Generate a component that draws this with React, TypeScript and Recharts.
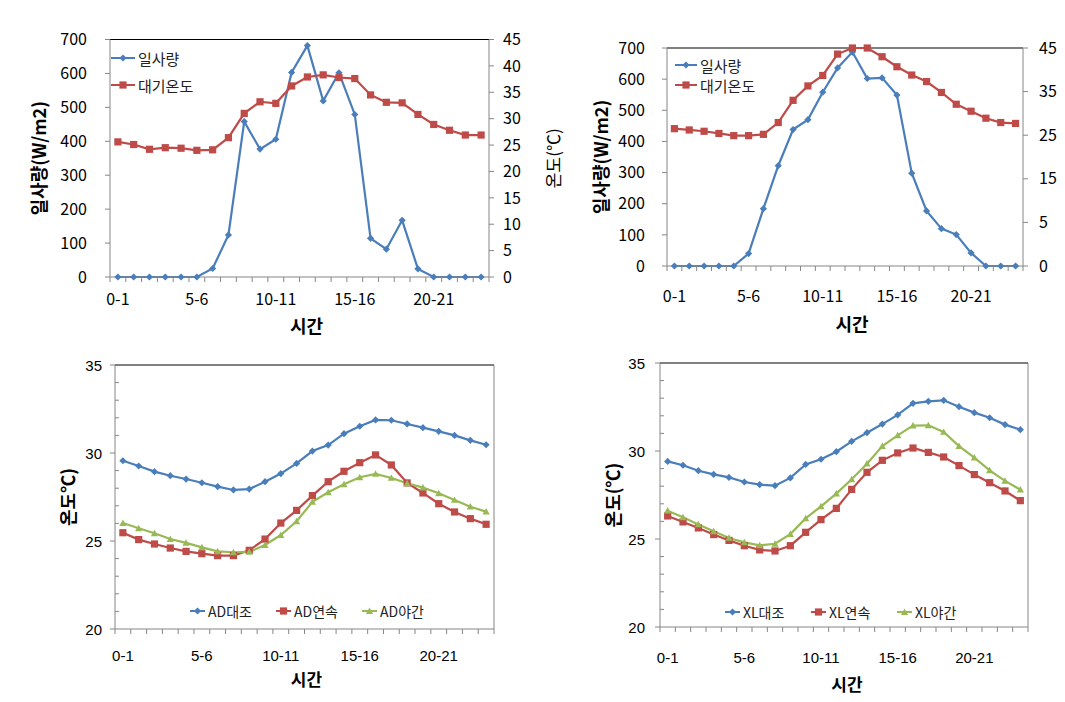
import React from 'react';
import { LineChart, Line, XAxis, YAxis, Legend, ReferenceLine } from 'recharts';

// hour categories, tick labels shown every 5 hours
const hours = [
  '0-1', '1-2', '2-3', '3-4', '4-5', '5-6', '6-7', '7-8', '8-9', '9-10', '10-11', '11-12',
  '12-13', '13-14', '14-15', '15-16', '16-17', '17-18', '18-19', '19-20', '20-21', '21-22', '22-23', '23-24',
];
const labelTicks = [0.5, 5.5, 10.5, 15.5, 20.5];
const boundaryTicks = [0, 1, 2, 3, 4, 5, 6, 7, 8, 9, 10, 11, 12, 13, 14, 15, 16, 17, 18, 19, 20, 21, 22, 23, 24];
const xTicks = [...boundaryTicks, ...labelTicks].sort((a, b) => a - b);

// top-left panel
const radiationA = [0, 0, 0, 0, 0, 0, 25, 124, 458, 377, 406, 603, 682, 519, 602, 479, 114, 82, 167, 24, 0, 0, 0, 0];
const airTempA = [25.6, 25.1, 24.2, 24.5, 24.4, 24.0, 24.1, 26.4, 31.0, 33.2, 32.9, 36.2, 37.9, 38.3, 37.8, 37.6, 34.5, 33.1, 33.0, 30.8, 28.9, 27.8, 26.9, 26.9];

// top-right panel
const radiationB = [0, 0, 0, 0, 0, 40, 184, 322, 438, 470, 558, 636, 687, 602, 604, 549, 298, 177, 120, 101, 42, 0, 0, 0];
const airTempB = [26.5, 26.2, 25.9, 25.4, 24.9, 24.9, 25.2, 27.9, 33.0, 36.3, 38.7, 43.6, 45.0, 45.0, 43.0, 40.7, 38.8, 37.3, 34.8, 32.1, 30.5, 28.9, 27.9, 27.7];

// bottom-left panel (AD)
const adControl = [29.56, 29.26, 28.94, 28.71, 28.52, 28.31, 28.09, 27.9, 27.95, 28.37, 28.83, 29.41, 30.11, 30.45, 31.1, 31.52, 31.88, 31.86, 31.65, 31.44, 31.23, 31.0, 30.72, 30.47];
const adContinuous = [25.47, 25.08, 24.83, 24.6, 24.41, 24.28, 24.17, 24.17, 24.47, 25.11, 26.02, 26.74, 27.58, 28.37, 28.96, 29.45, 29.89, 29.32, 28.3, 27.73, 27.12, 26.65, 26.27, 25.95];
const adNight = [26.02, 25.72, 25.44, 25.11, 24.89, 24.64, 24.41, 24.36, 24.38, 24.77, 25.34, 26.12, 27.22, 27.77, 28.22, 28.62, 28.81, 28.58, 28.28, 28.03, 27.71, 27.33, 26.95, 26.67];

// bottom-right panel (XL)
const xlControl = [29.41, 29.19, 28.88, 28.67, 28.5, 28.24, 28.09, 28.03, 28.47, 29.24, 29.53, 29.96, 30.55, 31.04, 31.53, 32.05, 32.71, 32.82, 32.88, 32.52, 32.18, 31.89, 31.5, 31.21];
const xlContinuous = [26.31, 25.97, 25.63, 25.25, 24.92, 24.62, 24.38, 24.32, 24.62, 25.38, 26.1, 26.74, 27.82, 28.79, 29.47, 29.89, 30.17, 29.92, 29.66, 29.17, 28.66, 28.2, 27.73, 27.18];
const xlNight = [26.61, 26.23, 25.83, 25.44, 25.06, 24.81, 24.64, 24.73, 25.28, 26.17, 26.86, 27.58, 28.39, 29.28, 30.28, 30.89, 31.44, 31.46, 31.08, 30.28, 29.62, 28.9, 28.3, 27.8];

const radTicks = [0, 100, 200, 300, 400, 500, 600, 700];
const tempTicksA = [0, 5, 10, 15, 20, 25, 30, 35, 40, 45];
const tempTicksB = [-5, 5, 15, 25, 35, 45];
const leafTicks = [20, 21, 22, 23, 24, 25, 26, 27, 28, 29, 30, 31, 32, 33, 34, 35];

const BLUE = '#4A7EBB';
const RED = '#BE4B48';
const GREEN = '#98B954';
const AXIS = '#868686';
const FONT = '"Noto Sans CJK KR", "Noto Sans", sans-serif';
const NARROW = '"Liberation Sans Narrow", "Liberation Sans", "Noto Sans CJK KR", sans-serif';

function Marker({ shape, cx, cy, color, r = 3.6 }: any) {
  if (cx == null || cy == null) return null;
  if (shape === 'diamond') {
    return <path d={`M${cx},${cy - r}L${cx + r},${cy}L${cx},${cy + r}L${cx - r},${cy}Z`} fill={color} />;
  }
  if (shape === 'square') {
    return <rect x={cx - r} y={cy - r} width={r * 2} height={r * 2} fill={color} />;
  }
  return <path d={`M${cx},${cy - r}L${cx + r},${cy + r * 0.8}L${cx - r},${cy + r * 0.8}Z`} fill={color} />;
}

const dotOf = (shape: string, color: string) => (p: any) => (
  <Marker key={`${shape}-${p.index}`} shape={shape} cx={p.cx} cy={p.cy} color={color} />
);

const shapes: Record<string, string> = {
  rad: 'diamond', temp: 'square', a: 'diamond', b: 'square', c: 'triangle',
};
const legendOrder = ['rad', 'temp', 'a', 'b', 'c'];

function LegendContent({ payload, vertical, rowH, iconW, itemW, fontSize }: any) {
  const items = [...(payload || [])].sort(
    (p: any, q: any) => legendOrder.indexOf(p.dataKey) - legendOrder.indexOf(q.dataKey),
  );
  return (
    <div style={{ display: 'flex', flexDirection: vertical ? 'column' : 'row', fontFamily: FONT, fontSize, color: '#222' }}>
      {items.map((e: any) => (
        <div key={e.value} style={{ display: 'flex', alignItems: 'center', height: rowH, width: itemW }}>
          <svg width={iconW} height={12} style={{ flex: 'none' }}>
            <line x1={0} y1={6} x2={iconW} y2={6} stroke={e.color} strokeWidth={2} />
            <Marker shape={shapes[e.dataKey]} cx={iconW / 2} cy={6} color={e.color} />
          </svg>
          <span style={{ marginLeft: 3, whiteSpace: 'nowrap' }}>{e.value}</span>
        </div>
      ))}
    </div>
  );
}

const vTitle = (text: string, dx: number, size: number, bold: boolean) => (props: any) => {
  const vb = props.viewBox || { x: 0, y: 0, width: 0, height: 0 };
  const x = vb.x + dx;
  const y = vb.y + vb.height / 2;
  return (
    <text x={x} y={y} transform={`rotate(-90 ${x} ${y})`} textAnchor="middle" dominantBaseline="central"
      fontFamily={FONT} fontSize={size} fontWeight={bold ? 700 : 400} fill="#000">{text}</text>
  );
};

const hTitle = (text: string, dx: number, dy: number, size: number) => (props: any) => {
  const vb = props.viewBox || { x: 0, y: 0, width: 0, height: 0 };
  return (
    <text x={vb.x + vb.width / 2 + dx} y={vb.y + dy} textAnchor="middle" dominantBaseline="central"
      fontFamily={FONT} fontSize={size} fontWeight={700} fill="#000">{text}</text>
  );
};

// whole-number ticks are hour boundaries (tick marks); half ticks carry the hour label
const hourTick = (offset: number, font: string, size: number) => (p: any) => {
  const v = p.payload.value;
  if (Number.isInteger(v)) {
    return <line x1={p.x} y1={p.y} x2={p.x} y2={p.y + 5} stroke={AXIS} />;
  }
  return (
    <text x={p.x} y={p.y + offset} textAnchor="middle" dominantBaseline="central"
      fontFamily={font} fontSize={size} fill="#000">{hours[Math.floor(v)]}</text>
  );
};

// major ticks every 5 degrees outside with a label, minor ticks inside
const leafTick = (gap: number) => (p: any) => {
  const v = p.payload.value;
  if (v % 5 === 0) {
    return (
      <g>
        <line x1={p.x - 5} y1={p.y} x2={p.x} y2={p.y} stroke={AXIS} />
        <text x={p.x - 5 - gap} y={p.y} textAnchor="end" dominantBaseline="central"
          fontFamily={NARROW} fontSize={15} fill="#000">{v}</text>
      </g>
    );
  }
  return <line x1={p.x} y1={p.y} x2={p.x + 4} y2={p.y} stroke={AXIS} />;
};

function RadiationPanel({ cfg, radiation, airTemp, tempDomain, tempTicks }: any) {
  const rows = hours.map((h, i) => ({ pos: i + 0.5, hour: h, rad: radiation[i], temp: airTemp[i] }));
  const tick = { fontFamily: FONT, fontSize: 16, fill: '#000' };
  return (
    <div style={{ position: 'absolute', left: cfg.left, top: cfg.top }}>
      <LineChart width={cfg.width} height={cfg.height} data={rows}
        margin={{ top: cfg.mTop, right: cfg.mRight, bottom: 0, left: 0 }}>
        <XAxis dataKey="pos" type="number" domain={[0, 24]} ticks={xTicks} interval={0}
          tick={hourTick(cfg.xLabelOffset, FONT, 16)} tickLine={false} tickSize={0} tickMargin={0}
          height={cfg.xH} stroke={AXIS}
          label={{ content: hTitle('시간', cfg.xTitleDx, cfg.xTitleDy, 18) }} />
        <YAxis yAxisId="rad" type="number" domain={[0, 700]} ticks={radTicks} interval={0} width={cfg.leftW}
          tickSize={5} tickMargin={cfg.lTickMargin} stroke={AXIS} tick={tick}
          label={{ content: vTitle('일사량(W/m2)', cfg.lTitleX, 18, true) }} />
        <YAxis yAxisId="temp" orientation="right" type="number" domain={tempDomain} ticks={tempTicks} interval={0}
          width={cfg.rightW} tickSize={5} tickMargin={cfg.rTickMargin} stroke={AXIS} tick={tick}
          tickFormatter={(v: number) => (v < 0 ? '0' : String(v))}
          label={cfg.rTitle ? { content: vTitle(cfg.rTitle, cfg.rTitleX, 17, false) } : undefined} />
        <ReferenceLine yAxisId="rad" y={700} stroke="#000" strokeWidth={1} />
        <Line yAxisId="rad" dataKey="rad" name="일사량" type="linear" stroke={BLUE} strokeWidth={2.2}
          dot={dotOf('diamond', BLUE)} activeDot={false} isAnimationActive={false} />
        <Line yAxisId="temp" dataKey="temp" name="대기온도" type="linear" stroke={RED} strokeWidth={2.2}
          dot={dotOf('square', RED)} activeDot={false} isAnimationActive={false} />
        <Legend layout="horizontal" verticalAlign="middle" align="center"
          wrapperStyle={{ left: cfg.legLeft, top: cfg.legTop, width: 'auto' }}
          content={<LegendContent vertical rowH={cfg.legRowH} iconW={cfg.legIconW} fontSize={15} />} />
      </LineChart>
    </div>
  );
}

function LeafPanel({ cfg, control, continuous, night, prefix }: any) {
  const rows = hours.map((h, i) => ({ pos: i + 0.5, hour: h, a: control[i], b: continuous[i], c: night[i] }));
  return (
    <div style={{ position: 'absolute', left: cfg.left, top: cfg.top }}>
      <LineChart width={cfg.width} height={cfg.height} data={rows}
        margin={{ top: cfg.mTop, right: cfg.mRight, bottom: 0, left: 0 }}>
        <XAxis dataKey="pos" type="number" domain={[0, 24]} ticks={xTicks} interval={0}
          tick={hourTick(cfg.xLabelOffset, NARROW, 15)} tickLine={false} tickSize={0} tickMargin={0}
          height={cfg.xH} stroke={AXIS}
          label={{ content: hTitle('시간', cfg.xTitleDx, cfg.xTitleDy, 17) }} />
        <YAxis type="number" domain={[20, 35]} ticks={leafTicks} interval={0} width={cfg.leftW}
          tick={leafTick(cfg.lTickMargin)} tickLine={false} tickSize={0} tickMargin={0} stroke={AXIS}
          label={{ content: vTitle(cfg.yTitle, cfg.lTitleX, 18, true) }} />
        <ReferenceLine y={35} stroke="#000" strokeWidth={1} />
        <ReferenceLine x={24} stroke={AXIS} strokeWidth={1} />
        <Line dataKey="a" name={`${prefix}대조`} type="linear" stroke={BLUE} strokeWidth={2.2}
          dot={dotOf('diamond', BLUE)} activeDot={false} isAnimationActive={false} />
        <Line dataKey="b" name={`${prefix}연속`} type="linear" stroke={RED} strokeWidth={2.2}
          dot={dotOf('square', RED)} activeDot={false} isAnimationActive={false} />
        <Line dataKey="c" name={`${prefix}야간`} type="linear" stroke={GREEN} strokeWidth={2.2}
          dot={dotOf('triangle', GREEN)} activeDot={false} isAnimationActive={false} />
        <Legend layout="horizontal" verticalAlign="middle" align="center"
          wrapperStyle={{ left: cfg.legLeft, top: cfg.legTop, width: 'auto' }}
          content={<LegendContent rowH={20} iconW={15} itemW={86} fontSize={14} />} />
      </LineChart>
    </div>
  );
}

const topLeft = {
  left: 0, top: 0, width: 580, height: 345, mTop: 39.5, mRight: 6, leftW: 110, rightW: 85, xH: 68,
  xLabelOffset: 21, lTickMargin: 18, rTickMargin: 9, lTitleX: 38, rTitle: '온도(℃)', rTitleX: 63,
  xTitleDx: 7, xTitleDy: 48, legLeft: 111, legTop: 44.5, legRowH: 27, legIconW: 24,
};
const topRight = {
  left: 540, top: 0, width: 525, height: 345, mTop: 48, mRight: 0, leftW: 127, rightW: 42, xH: 79,
  xLabelOffset: 29, lTickMargin: 17, rTickMargin: 11, lTitleX: 60, rTitle: '', rTitleX: 0,
  xTitleDx: 7, xTitleDy: 57, legLeft: 135, legTop: 55, legRowH: 20, legIconW: 22,
};
const bottomLeft = {
  left: 0, top: 345, width: 540, height: 357, mTop: 20, mRight: 46, leftW: 115, xH: 73,
  xLabelOffset: 26, lTickMargin: 8, lTitleX: 67, yTitle: '온도℃)', xTitleDx: 2, xTitleDy: 49,
  legLeft: 190, legTop: 256,
};
const bottomRight = {
  left: 540, top: 345, width: 525, height: 357, mTop: 18, mRight: 37, leftW: 120, xH: 75,
  xLabelOffset: 30, lTickMargin: 10, lTitleX: 72, yTitle: '온도(℃)', xTitleDx: 3, xTitleDy: 56,
  legLeft: 185, legTop: 257,
};

export default function App() {
  return (
    <div style={{ position: 'relative', width: 1065, height: 702, background: '#fff', overflow: 'hidden' }}>
      <style>{'body{margin:0}'}</style>
      <RadiationPanel cfg={topLeft} radiation={radiationA} airTemp={airTempA} tempDomain={[0, 45]} tempTicks={tempTicksA} />
      <RadiationPanel cfg={topRight} radiation={radiationB} airTemp={airTempB} tempDomain={[-5, 45]} tempTicks={tempTicksB} />
      <LeafPanel cfg={bottomLeft} control={adControl} continuous={adContinuous} night={adNight} prefix="AD" />
      <LeafPanel cfg={bottomRight} control={xlControl} continuous={xlContinuous} night={xlNight} prefix="XL" />
    </div>
  );
}
